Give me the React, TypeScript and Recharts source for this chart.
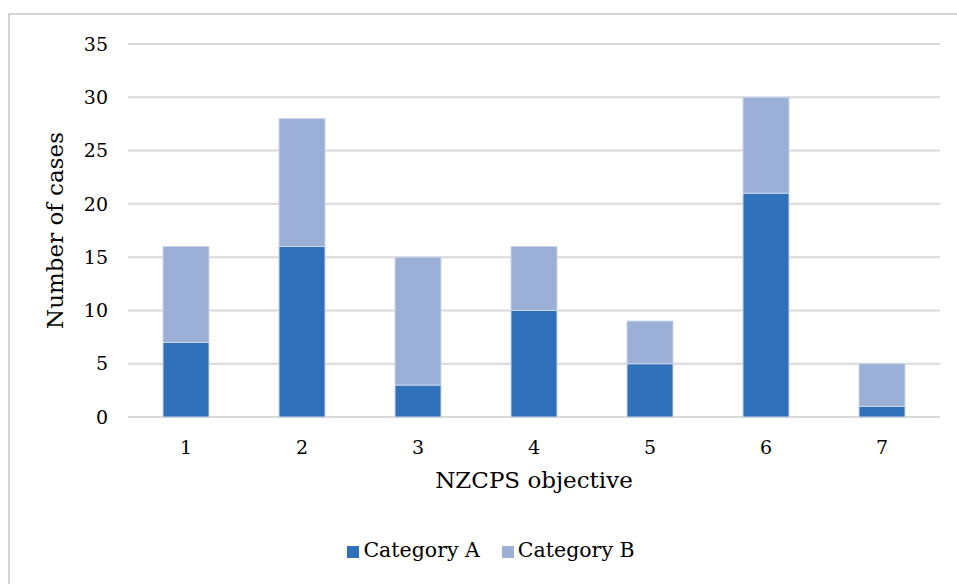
import {
  BarChart,
  Bar,
  XAxis,
  YAxis,
  CartesianGrid,
  Legend,
} from "recharts";

const objectives = ["1", "2", "3", "4", "5", "6", "7"];
const categoryA = [7, 16, 3, 10, 5, 21, 1];
const categoryB = [9, 12, 12, 6, 4, 9, 4];
const yTicks = [0, 5, 10, 15, 20, 25, 30, 35];

const data = objectives.map((name, i) => ({
  name,
  a: categoryA[i],
  b: categoryB[i],
}));

const FONT = "'DejaVu Serif', Georgia, serif";

const legendText = (value: string) => (
  <span style={{ color: "#000", marginRight: 12 }}>{value}</span>
);

const App = () => {
  return (
    <div
      style={{
        position: "fixed",
        left: 0,
        top: 0,
        width: 957,
        height: 584,
        overflow: "hidden",
        background: "#fff",
        fontFamily: FONT,
      }}
    >
      <div
        style={{
          position: "absolute",
          left: 8,
          top: 13,
          width: 1000,
          height: 700,
          border: "2px solid #D4D4D4",
          boxSizing: "border-box",
        }}
      />
      <div style={{ position: "absolute", left: 0, top: 0 }}>
        <BarChart
          width={957}
          height={584}
          data={data}
          margin={{ top: 44, right: 17, left: 20, bottom: 87 }}
        >
          <CartesianGrid vertical={false} stroke="#D9D9D9" strokeWidth={2} />
          <XAxis
            dataKey="name"
            axisLine={false}
            tickLine={false}
            tickSize={0}
            tickMargin={24}
            height={80}
            tick={{ fill: "#000", fontSize: 19, fontFamily: FONT }}
            label={{
              value: "NZCPS objective",
              position: "insideTop",
              offset: 55,
              fill: "#000",
              fontSize: 23,
              fontFamily: FONT,
            }}
          />
          <YAxis
            domain={[0, 35]}
            ticks={yTicks}
            interval={0}
            width={108}
            axisLine={false}
            tickLine={false}
            tickSize={0}
            tickMargin={20}
            tick={{ fill: "#000", fontSize: 19, fontFamily: FONT }}
            label={{
              value: "Number of cases",
              angle: -90,
              position: "center",
              dx: -19,
              fill: "#000",
              fontSize: 23,
              fontFamily: FONT,
            }}
          />
          <Legend
            layout="horizontal"
            align="center"
            verticalAlign="middle"
            iconType="square"
            iconSize={12}
            formatter={legendText}
            wrapperStyle={{
              left: 342,
              top: 538,
              width: 320,
              fontSize: 20.5,
              fontFamily: FONT,
            }}
          />
          <Bar
            dataKey="a"
            name="Category A"
            stackId="s"
            fill="#3071B9"
            stroke="#C9D5EA"
            strokeWidth={1}
            barSize={46}
            isAnimationActive={false}
          />
          <Bar
            dataKey="b"
            name="Category B"
            stackId="s"
            fill="#9CB0D7"
            stroke="#C9D5EA"
            strokeWidth={1}
            barSize={46}
            isAnimationActive={false}
          />
        </BarChart>
      </div>
    </div>
  );
};

export default App;
